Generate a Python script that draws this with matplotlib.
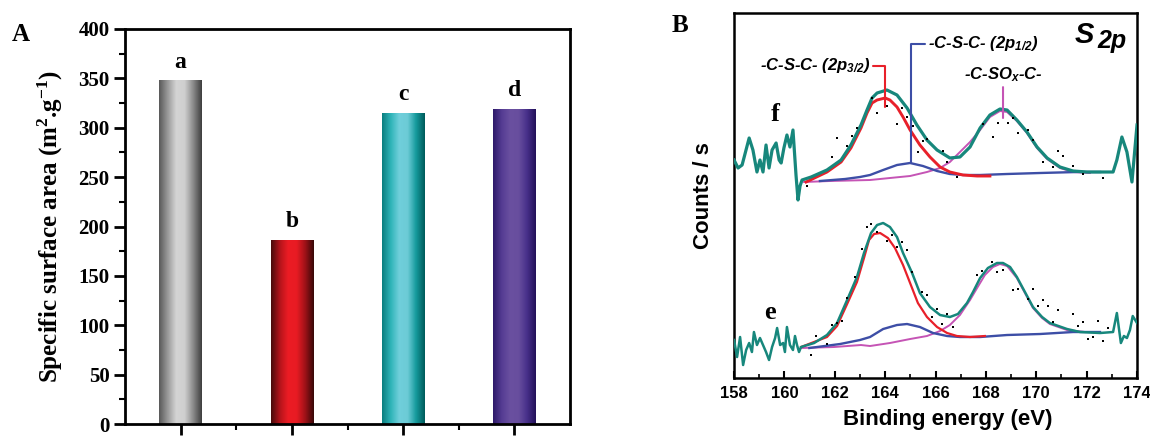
import numpy as np
import matplotlib.pyplot as plt
from matplotlib.colors import LinearSegmentedColormap

plt.rcParams['font.family'] = 'Liberation Serif'
plt.rcParams['font.weight'] = 'bold'

# %% panel A data
samples = ['a', 'b', 'c', 'd']
surface_area = [348, 186, 315, 319]
bar_shades = [
    ['#5a5a5a', '#9a9a9a', '#d4d4d4', '#cfcfcf', '#8c8c8c', '#404040'],
    ['#4a0c0c', '#b3141b', '#ec1c24', '#e81b23', '#a01218', '#3a0808'],
    ['#0b7f80', '#2fb4b8', '#70cfdb', '#6ccbd6', '#159a9c', '#005c5c'],
    ['#2e1a6a', '#553c93', '#6a50a0', '#684e9e', '#47308a', '#24125a'],
]

# %% panel B data (binding energy in eV, counts)
f_trace = [(158.00, 218), (158.16, 210), (158.32, 213), (158.60, 240), (158.75, 228),
           (158.91, 206), (159.03, 218), (159.15, 206), (159.27, 233), (159.39, 210),
           (159.51, 228), (159.67, 235), (159.79, 218), (159.87, 215), (159.98, 230),
           (160.10, 243), (160.22, 231), (160.34, 248), (160.46, 203), (160.54, 178),
           (160.62, 192), (160.70, 198), (161.06, 201), (161.69, 208), (162.25, 218),
           (162.64, 233), (163.04, 253), (163.28, 268), (163.48, 280), (163.68, 285),
           (164.07, 288), (164.47, 283), (164.87, 270), (165.26, 253), (165.66, 238),
           (166.06, 228), (166.57, 220), (166.97, 221), (167.37, 231), (167.77, 250),
           (168.16, 263), (168.56, 269), (168.84, 268), (169.23, 258), (169.63, 246),
           (170.03, 231), (170.43, 220), (170.94, 211), (171.46, 207), (172.01, 206),
           (173.05, 206), (173.20, 218), (173.40, 241), (173.60, 226), (173.80, 196),
           (174.00, 253)]
f_32 = [(160.86, 196), (161.69, 206), (162.25, 216), (162.64, 230), (163.04, 250),
        (163.28, 265), (163.48, 275), (163.68, 278), (164.00, 280), (164.19, 278),
        (164.47, 271), (164.71, 261), (164.99, 248), (165.38, 233), (165.78, 221),
        (166.18, 211), (166.57, 206), (167.09, 203), (167.65, 202), (168.16, 202)]
f_12 = [(161.41, 197), (162.41, 199), (163.00, 201), (163.40, 203), (163.92, 208),
        (164.47, 213), (164.99, 215), (165.50, 212), (166.06, 207), (166.57, 204),
        (167.09, 203), (167.77, 203), (168.84, 204), (170.15, 205), (171.62, 206),
        (172.53, 206)]
f_sox = [(160.78, 196), (161.81, 197), (163.40, 198), (164.19, 200), (164.99, 202),
         (165.66, 206), (166.18, 210), (166.57, 216), (166.97, 226), (167.37, 236),
         (167.77, 248), (168.16, 261), (168.56, 267), (168.84, 266), (169.23, 257),
         (169.63, 245), (170.03, 230), (170.43, 219), (170.94, 210), (171.46, 206),
         (172.13, 205)]
f_raw = [(160.90, 192), (161.89, 221), (162.09, 240), (162.49, 232), (162.68, 242),
         (162.88, 250), (163.48, 280), (163.68, 265), (164.07, 272), (164.47, 254),
         (164.67, 270), (164.87, 261), (165.11, 252), (165.30, 226), (165.50, 237),
         (165.66, 239), (166.30, 227), (166.46, 216), (166.85, 201), (167.88, 254),
         (168.28, 241), (168.48, 255), (168.88, 255), (169.08, 260), (169.27, 245),
         (169.67, 248), (169.87, 238), (170.27, 216), (170.66, 211), (170.86, 227),
         (171.06, 222), (171.46, 212), (171.85, 204), (172.65, 200)]

e_trace = [(158.00, 38), (158.12, 21), (158.24, 41), (158.36, 13), (158.48, 28),
           (158.60, 35), (158.71, 26), (158.79, 46), (158.91, 33), (159.03, 40),
           (159.15, 33), (159.27, 26), (159.39, 18), (159.51, 31), (159.63, 40),
           (159.71, 50), (159.83, 33), (159.95, 35), (160.02, 26), (160.10, 51),
           (160.22, 33), (160.34, 28), (160.42, 42), (160.50, 33), (160.58, 26),
           (160.66, 31), (161.18, 35), (161.69, 43), (162.09, 55), (162.49, 78),
           (162.88, 101), (163.16, 125), (163.44, 145), (163.68, 153), (163.92, 155),
           (164.19, 151), (164.47, 141), (164.71, 125), (165.07, 105), (165.38, 85),
           (165.78, 71), (166.18, 63), (166.57, 61), (166.89, 64), (167.25, 75),
           (167.49, 86), (167.77, 100), (168.08, 110), (168.44, 115), (168.68, 115),
           (168.96, 111), (169.23, 101), (169.55, 86), (169.87, 71), (170.23, 61),
           (170.54, 55), (171.22, 49), (171.74, 46), (172.53, 45), (173.05, 46),
           (173.20, 65), (173.36, 35), (173.48, 42), (173.60, 40), (173.72, 48),
           (173.83, 62), (174.00, 55)]
e_32 = [(160.66, 31), (161.69, 41), (162.09, 52), (162.49, 74), (162.88, 96),
        (163.16, 120), (163.36, 138), (163.56, 144), (163.80, 145), (164.11, 140),
        (164.39, 130), (164.71, 113), (164.99, 95), (165.30, 75), (165.66, 61),
        (166.06, 51), (166.46, 45), (166.85, 42), (167.37, 41), (167.96, 42)]
e_12 = [(160.99, 30), (162.21, 34), (163.00, 38), (163.40, 41), (163.92, 49),
        (164.47, 53), (164.87, 54), (165.38, 51), (165.90, 45), (166.46, 42),
        (166.97, 41), (167.77, 41), (168.84, 43), (170.15, 44), (171.46, 46),
        (172.53, 46)]
e_sox = [(160.66, 30), (161.97, 31), (163.04, 33), (163.40, 32), (164.19, 35),
         (164.99, 39), (165.66, 42), (166.18, 47), (166.57, 53), (166.97, 63),
         (167.37, 78), (167.65, 90), (167.96, 103), (168.28, 111), (168.56, 114),
         (168.84, 112), (169.23, 100), (169.55, 85), (169.87, 70), (170.23, 60),
         (170.54, 54), (171.22, 48), (171.93, 46)]
e_raw = [(161.06, 23), (161.26, 42), (161.69, 34), (161.89, 53), (162.09, 55),
         (162.29, 57), (162.49, 80), (162.80, 101), (163.08, 129), (163.28, 151),
         (163.44, 154), (163.68, 146), (164.07, 137), (164.27, 143), (164.47, 131),
         (164.67, 136), (164.87, 128), (165.07, 106), (165.46, 86), (165.66, 83),
         (165.86, 61), (166.06, 69), (166.26, 54), (166.46, 64), (166.69, 51),
         (167.65, 103), (167.85, 107), (168.24, 116), (168.44, 106), (168.68, 108),
         (169.08, 88), (169.27, 89), (169.67, 79), (169.87, 89), (170.07, 72),
         (170.27, 78), (170.47, 72), (170.66, 56), (170.86, 68), (171.46, 64),
         (171.66, 52), (171.85, 56), (172.05, 39), (172.25, 41), (172.45, 57),
         (172.65, 37), (172.85, 50)]

# peak labels: text, text anchor, peak point, colour
peak_labels = [
    ('-C-S-C- (2p$\\mathregular{_{3/2}}$)', (163.42, 312), (163.99, 271), '#e8202a'),
    ('-C-S-C- (2p$\\mathregular{_{1/2}}$)', (165.70, 334), (165.03, 215), '#3d4ea6'),
    ('-C-SO$\\mathregular{_x}$-C-', (168.68, 303), (168.68, 260), '#c554b5'),
]

teal, red, blue, magenta = '#17877c', '#e8202a', '#3d4ea6', '#c554b5'
sans = 'Liberation Sans'

# %%
fig = plt.figure(figsize=(11.5, 4.36), dpi=100)
axA = fig.add_axes([0.1087, 0.0275, 0.387, 0.906])
axB = fig.add_axes([0.6383, 0.1330, 0.3504, 0.8372])

# ---- panel A
x = np.arange(1, len(samples) + 1)
bars = axA.bar(x, surface_area, width=0.38, color='none', edgecolor='none')
grad = np.linspace(0, 1, 64).reshape(1, -1)
for bar, shades in zip(bars, bar_shades):
    cmap = LinearSegmentedColormap.from_list('bar', shades)
    x0, w, h = bar.get_x(), bar.get_width(), bar.get_height()
    im = axA.imshow(grad, cmap=cmap, aspect='auto', extent=[x0, x0 + w, 0, h], zorder=2)
    im.set_clip_path(bar)
for xi, v, s in zip(x, surface_area, samples):
    axA.text(xi, v + 13, s, ha='center', va='baseline', fontsize=17, fontweight='bold')

axA.set_xlim(0.5, 4.5)
axA.set_ylim(0, 400)
axA.set_xticks(x)
axA.set_xticks(x[:-1] + 0.5, minor=True)
axA.set_xticklabels([])
axA.set_yticks(np.arange(0, 401, 50))
axA.set_yticks(np.arange(25, 400, 50), minor=True)
axA.tick_params(which='major', direction='out', length=8, width=2, labelsize=15, pad=3)
axA.tick_params(which='minor', direction='out', length=4, width=1.5)
for sp in axA.spines.values():
    sp.set_linewidth(2)
axA.set_ylabel('Specific surface area (m$\\mathregular{^2}$.g$\\mathregular{^{-1}}$)',
               fontsize=18, fontweight='bold')
axA.yaxis.set_label_coords(-0.135, 0.5)
fig.text(12 / 1150, 1 - 41 / 436, 'A', fontsize=18, fontweight='bold', va='baseline')

# ---- panel B
for trace, p32, p12, psox, raw, lw in [(f_trace, f_32, f_12, f_sox, f_raw, 2.3),
                                       (e_trace, e_32, e_12, e_sox, e_raw, 1.8)]:
    axB.plot(*zip(*psox), color=magenta, lw=1.4, zorder=2)
    axB.plot(*zip(*p12), color=blue, lw=1.7, zorder=3)
    axB.plot(*zip(*p32), color=red, lw=lw - 0.2, zorder=4)
    axB.plot(*zip(*trace), color=teal, lw=lw, zorder=5)
    axB.plot(*zip(*raw), 's', color='black', ms=2, mew=0, zorder=6)

for text, pos, peak, col in peak_labels:
    if pos[0] < peak[0]:
        ha, rel, conn = 'right', (1, 0.5), 'angle,angleA=0,angleB=90,rad=0'
    elif pos[0] > peak[0]:
        ha, rel, conn = 'left', (0, 0.5), 'angle,angleA=180,angleB=90,rad=0'
    else:
        ha, rel, conn = 'center', (0.5, 0), 'arc3'
    axB.annotate(text, xy=peak, xytext=pos, ha=ha, va='center', fontsize=12,
                 fontfamily=sans, fontweight='bold', style='italic', zorder=7,
                 arrowprops=dict(arrowstyle='-', color=col, lw=1.5, relpos=rel,
                                 connectionstyle=conn, shrinkA=0, shrinkB=0))

axB.text(171.9, 335, 'S', fontsize=21, fontfamily=sans, fontweight='bold', style='italic',
         ha='center', va='baseline')
axB.text(172.42, 330, '2p', fontsize=18, fontfamily=sans, fontweight='bold', style='italic',
         ha='left', va='baseline')
axB.text(159.63, 263, 'f', fontsize=19, fontweight='bold', ha='center', va='center')
axB.text(159.43, 66, 'e', fontsize=19, fontweight='bold', ha='center', va='center')

axB.set_xlim(158, 174)
axB.set_ylim(0, 365)
axB.set_xticks(np.arange(158, 175, 2))
axB.set_xticks(np.arange(159, 174, 2), minor=True)
axB.set_yticks([])
axB.tick_params(which='major', direction='in', length=5, width=1.5, labelsize=12, pad=6)
axB.tick_params(which='minor', direction='in', length=3, width=1.2)
for lab in axB.get_xticklabels():
    lab.set_fontfamily(sans)
for sp in axB.spines.values():
    sp.set_linewidth(1.8)
axB.set_xlabel('Binding energy (eV)', fontsize=16, fontfamily=sans, fontweight='bold')
axB.xaxis.set_label_coords(0.53, -0.085)
axB.set_ylabel('Counts / s', fontsize=16, fontfamily=sans, fontweight='bold')
axB.yaxis.set_label_coords(-0.05, 0.5)
fig.text(672 / 1150, 1 - 32 / 436, 'B', fontsize=18, fontweight='bold', va='baseline')

plt.savefig('out.png', dpi=100)
